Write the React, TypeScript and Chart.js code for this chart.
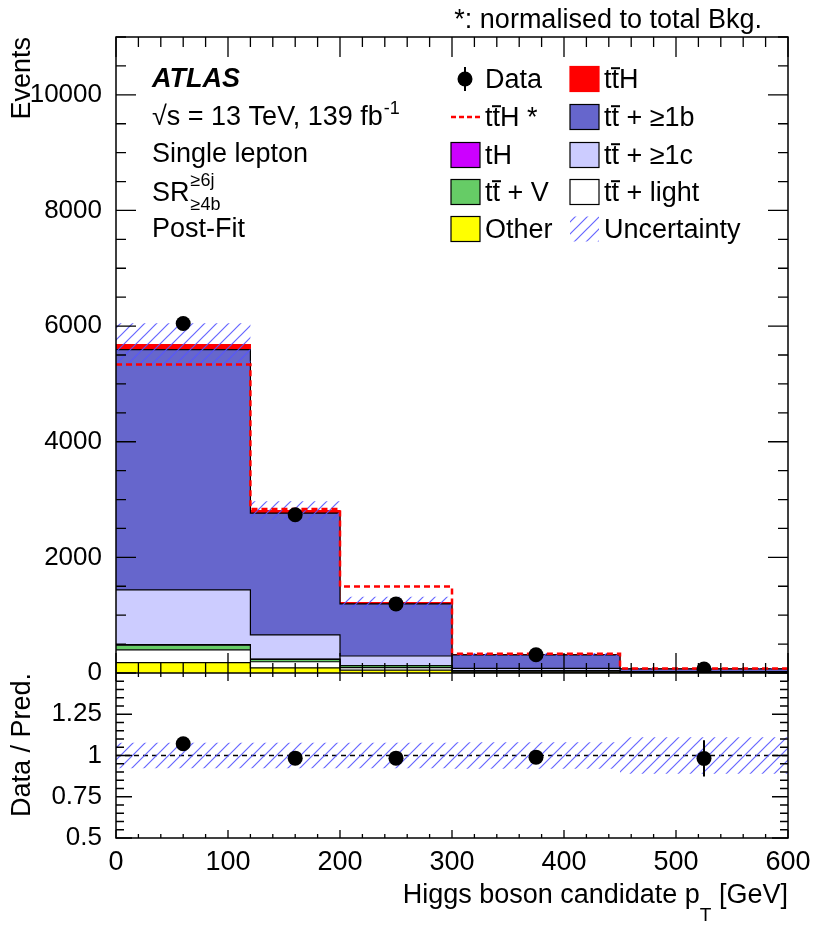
import { useEffect, useRef } from "react";
import { Chart, registerables } from "chart.js";

Chart.register(...registerables);

// binning of the Higgs candidate pT (GeV)
const binEdges = [0, 120, 200, 300, 450, 600];
const binCenters = [60, 160, 250, 375, 525];

// post-fit yields per bin, stacked bottom -> top
const other = [180, 90, 48, 15, 4];
const ttLight = [220, 105, 45, 15, 5];
const ttV = [80, 40, 32, 12, 4];
const tH = [12, 6, 3, 1, 0.4];
const ttC = [945, 417, 166, 37, 10];
const ttB = [4156, 2107, 901, 232, 47];
const ttH = [87, 45, 23, 8, 2];
const ttHNorm = [5335, 2835, 1495, 335, 78];
const bkgUnc = [370, 160, 100, 25, 8];

const dataEvents = [6045, 2736, 1195, 315, 68];
const dataErr = [78, 52, 35, 18, 8];

const ratio = [1.071, 0.984, 0.984, 0.99, 0.982];
const ratioErr = [0.013, 0.019, 0.029, 0.04, 0.11];
const ratioUnc = [0.078, 0.078, 0.078, 0.08, 0.11];

// labelled ticks
const eventTicks = [0, 2000, 4000, 6000, 8000, 10000];
const ratioTicks = [0.5, 0.75, 1, 1.25];
const ptTicks = [0, 100, 200, 300, 400, 500, 600];

const legendLeft = ["Data", "tt\u0304H *", "tH", "tt\u0304 + V", "Other"];
const legendRight = ["tt\u0304H", "tt\u0304 + \u22651b", "tt\u0304 + \u22651c", "tt\u0304 + light", "Uncertainty"];

const FONT = '"Liberation Sans", Arial, Helvetica, sans-serif';
const TXT = 27;

function hatchPattern(): CanvasPattern | string {
    const c = document.createElement("canvas");
    c.width = 12;
    c.height = 12;
    const g = c.getContext("2d");
    if (!g) return "rgba(90,90,255,0.4)";
    g.strokeStyle = "rgba(85,85,255,0.9)";
    g.lineWidth = 1.2;
    g.beginPath();
    for (const k of [0, 12, 24]) {
        g.moveTo(-2, k + 2);
        g.lineTo(k + 2, -2);
    }
    g.stroke();
    return g.createPattern(c, "repeat") ?? "rgba(90,90,255,0.4)";
}

// histogram outline: one point per bin edge, value held until the next edge
function stepPoints(vals: number[]) {
    return binEdges.map((x, i) => ({ x, y: vals[Math.min(i, vals.length - 1)] }));
}

// draws text, putting a bar over a letter followed by U+0304 (tt̄)
function drawLabel(ctx: CanvasRenderingContext2D, text: string, x: number, y: number, size = TXT) {
    ctx.font = `${size}px ${FONT}`;
    ctx.textAlign = "left";
    ctx.textBaseline = "alphabetic";
    const bar = text.indexOf("\u0304");
    if (bar < 0) {
        ctx.fillText(text, x, y);
        return;
    }
    const before = text.slice(0, bar - 1);
    const barred = text.slice(bar - 1, bar);
    const after = text.slice(bar + 1);
    let cx = x;
    ctx.fillText(before, cx, y);
    cx += ctx.measureText(before).width;
    const w = ctx.measureText(barred).width;
    ctx.fillText(barred, cx, y);
    ctx.fillRect(cx - 0.5, y - size * 0.77, w + 1.5, 2);
    cx += w;
    ctx.fillText(after, cx, y);
}

export default function App() {
    const canvasRef = useRef<HTMLCanvasElement | null>(null);

    useEffect(() => {
        if (!canvasRef.current) return;
        const hatch = hatchPattern();

        const layers = [
            { label: "Other", vals: other, color: "#ffff00", line: "#000000" },
            { label: "tt + light", vals: ttLight, color: "#ffffff", line: "#000000" },
            { label: "tt + V", vals: ttV, color: "#66cc66", line: "#000000" },
            { label: "tH", vals: tH, color: "#cc00ff", line: "#000000" },
            { label: "tt + >=1c", vals: ttC, color: "#ccccff", line: "#000000" },
            { label: "tt + >=1b", vals: ttB, color: "#6666cc", line: "#000000" },
            { label: "ttH", vals: ttH, color: "#ff0000", line: "#ff0000" },
        ];
        let run = [0, 0, 0, 0, 0];
        const cumulative = layers.map((l) => {
            run = run.map((r, i) => r + l.vals[i]);
            return run;
        });
        const total = run;

        const stackSets = layers.map((l, i) => ({
            label: l.label,
            data: stepPoints(cumulative[i]),
            yAxisID: "y",
            stepped: true,
            fill: "origin",
            backgroundColor: l.color,
            borderColor: l.line,
            borderWidth: 1.2,
            pointRadius: 0,
            order: 10 + i,
        }));

        const datasets: any[] = [
            {
                label: "Data",
                data: binCenters.map((x, i) => ({ x, y: dataEvents[i] })),
                yAxisID: "y",
                showLine: false,
                pointRadius: 7.5,
                pointBorderWidth: 0,
                pointBackgroundColor: "#000",
                order: 0,
            },
            {
                label: "ttH *",
                data: stepPoints(ttHNorm),
                yAxisID: "y",
                stepped: true,
                fill: false,
                borderColor: "#ff0000",
                borderWidth: 2.5,
                borderDash: [6, 4],
                pointRadius: 0,
                order: 1,
            },
            {
                label: "unc low",
                data: stepPoints(total.map((t, i) => t - bkgUnc[i])),
                yAxisID: "y",
                stepped: true,
                fill: false,
                borderWidth: 0,
                pointRadius: 0,
                order: 2,
            },
            {
                label: "Uncertainty",
                data: stepPoints(total.map((t, i) => t + bkgUnc[i])),
                yAxisID: "y",
                stepped: true,
                fill: "-1",
                backgroundColor: hatch,
                borderWidth: 0,
                pointRadius: 0,
                order: 2,
            },
            ...stackSets,
            {
                label: "ratio data",
                data: binCenters.map((x, i) => ({ x, y: ratio[i] })),
                yAxisID: "yr",
                showLine: false,
                pointRadius: 7.5,
                pointBorderWidth: 0,
                pointBackgroundColor: "#000",
                order: 0,
            },
            {
                label: "ratio unc low",
                data: stepPoints(ratioUnc.map((u) => 1 - u)),
                yAxisID: "yr",
                stepped: true,
                fill: false,
                borderWidth: 0,
                pointRadius: 0,
                order: 2,
            },
            {
                label: "ratio unc",
                data: stepPoints(ratioUnc.map((u) => 1 + u)),
                yAxisID: "yr",
                stepped: true,
                fill: "-1",
                backgroundColor: hatch,
                borderWidth: 0,
                pointRadius: 0,
                order: 2,
            },
            {
                label: "unity",
                data: [{ x: 0, y: 1 }, { x: 600, y: 1 }],
                yAxisID: "yr",
                fill: false,
                borderColor: "#000",
                borderWidth: 1.5,
                borderDash: [5, 4],
                pointRadius: 0,
                order: 3,
            },
        ];

        const errorBars = {
            id: "errorBars",
            afterDatasetsDraw(chart: any) {
                const { ctx, scales } = chart;
                ctx.save();
                ctx.strokeStyle = "#000";
                ctx.lineWidth = 2;
                ctx.beginPath();
                binCenters.forEach((c, i) => {
                    const px = scales.x.getPixelForValue(c);
                    ctx.moveTo(px, scales.y.getPixelForValue(dataEvents[i] - dataErr[i]));
                    ctx.lineTo(px, scales.y.getPixelForValue(dataEvents[i] + dataErr[i]));
                    ctx.moveTo(px, scales.yr.getPixelForValue(ratio[i] - ratioErr[i]));
                    ctx.lineTo(px, scales.yr.getPixelForValue(ratio[i] + ratioErr[i]));
                });
                ctx.stroke();
                ctx.restore();
            },
        };

        const decor = {
            id: "atlasDecor",
            afterDraw(chart: any) {
                const { ctx, chartArea: a, scales } = chart;
                const { x, y, yr } = scales;
                ctx.save();
                ctx.strokeStyle = "#000";
                ctx.fillStyle = "#000";

                // inward ticks on all sides of both panels
                ctx.lineWidth = 1.3;
                ctx.beginPath();
                const xTicks = (py: number, dir: number, maj: number, mn: number) => {
                    for (let v = 0; v <= 600; v += 20) {
                        const px = x.getPixelForValue(v);
                        const len = v % 100 === 0 ? maj : mn;
                        ctx.moveTo(px, py);
                        ctx.lineTo(px, py + dir * len);
                    }
                };
                xTicks(y.top, 1, 20, 10);
                xTicks(y.bottom, -1, 20, 10);
                xTicks(yr.top, 1, 8, 4);
                xTicks(yr.bottom, -1, 8, 4);
                const yTicks = (sc: any, lo: number, hi: number, step: number, majStep: number, maj: number, mn: number) => {
                    const n = Math.round((hi - lo) / step);
                    for (let k = 0; k <= n; k++) {
                        const v = lo + k * step;
                        const py = sc.getPixelForValue(v);
                        const r = v / majStep;
                        const len = Math.abs(r - Math.round(r)) < 1e-6 ? maj : mn;
                        ctx.moveTo(a.left, py);
                        ctx.lineTo(a.left + len, py);
                        ctx.moveTo(a.right, py);
                        ctx.lineTo(a.right - len, py);
                    }
                };
                yTicks(y, 0, 11000, 500, 2000, 20, 10);
                yTicks(yr, 0.5, 1.5, 0.05, 0.25, 16, 8);
                ctx.stroke();

                ctx.lineWidth = 1.5;
                ctx.strokeRect(a.left, a.top, a.right - a.left, a.bottom - a.top);
                ctx.beginPath();
                ctx.moveTo(a.left, y.bottom);
                ctx.lineTo(a.right, y.bottom);
                ctx.stroke();

                // axis titles
                ctx.font = `${TXT}px ${FONT}`;
                ctx.textBaseline = "alphabetic";
                for (const [title, top] of [["Events", y.top], ["Data / Pred.", yr.top]] as [string, number][]) {
                    ctx.save();
                    ctx.translate(30, top);
                    ctx.rotate(-Math.PI / 2);
                    ctx.textAlign = "right";
                    ctx.fillText(title, 0, 0);
                    ctx.restore();
                }
                ctx.textAlign = "right";
                const tail = " [GeV]";
                ctx.fillText(tail, a.right, 903);
                const wTail = ctx.measureText(tail).width;
                ctx.font = `19px ${FONT}`;
                ctx.fillText("T", a.right - wTail, 921);
                const wT = ctx.measureText("T").width;
                ctx.font = `${TXT}px ${FONT}`;
                ctx.fillText("Higgs boson candidate p", a.right - wTail - wT, 903);

                ctx.fillText("*: normalised to total Bkg.", 762, 28);

                // ATLAS label block
                ctx.textAlign = "left";
                ctx.font = `italic bold ${TXT}px ${FONT}`;
                ctx.fillText("ATLAS", 152, 87);
                ctx.font = `${TXT}px ${FONT}`;
                const lumi = "\u221As = 13 TeV, 139 fb";
                ctx.fillText(lumi, 152, 125);
                const wl = ctx.measureText(lumi).width;
                ctx.font = `18px ${FONT}`;
                ctx.fillText("-1", 152 + wl + 1, 114);
                ctx.font = `${TXT}px ${FONT}`;
                ctx.fillText("Single lepton", 152, 162);
                ctx.fillText("SR", 152, 201);
                const wsr = ctx.measureText("SR").width;
                ctx.font = `18px ${FONT}`;
                ctx.fillText("\u22656j", 152 + wsr + 1, 186);
                ctx.fillText("\u22654b", 152 + wsr + 1, 210);
                ctx.font = `${TXT}px ${FONT}`;
                ctx.fillText("Post-Fit", 152, 237);

                // legend
                const rows = [79, 117, 155, 192, 229];
                const boxW = 29;
                const boxH = 25;
                const box = (bx: number, cy: number, fill: any, line: string | null) => {
                    ctx.fillStyle = fill;
                    ctx.fillRect(bx, cy - boxH / 2, boxW, boxH);
                    if (line) {
                        ctx.strokeStyle = line;
                        ctx.lineWidth = 1.2;
                        ctx.strokeRect(bx, cy - boxH / 2, boxW, boxH);
                    }
                    ctx.fillStyle = "#000";
                    ctx.strokeStyle = "#000";
                };
                // left column
                ctx.beginPath();
                ctx.arc(465, rows[0], 7.5, 0, Math.PI * 2);
                ctx.fill();
                ctx.lineWidth = 2;
                ctx.beginPath();
                ctx.moveTo(465, rows[0] - 12);
                ctx.lineTo(465, rows[0] + 12);
                ctx.stroke();
                ctx.save();
                ctx.strokeStyle = "#ff0000";
                ctx.lineWidth = 2.5;
                ctx.setLineDash([5, 3]);
                ctx.beginPath();
                ctx.moveTo(451, rows[1]);
                ctx.lineTo(480, rows[1]);
                ctx.stroke();
                ctx.restore();
                box(451, rows[2], "#cc00ff", "#000");
                box(451, rows[3], "#66cc66", "#000");
                box(451, rows[4], "#ffff00", "#000");
                legendLeft.forEach((t, i) => drawLabel(ctx, t, 485, rows[i] + 9));
                // right column
                box(570, rows[0], "#ff0000", "#ff0000");
                box(570, rows[1], "#6666cc", "#000");
                box(570, rows[2], "#ccccff", "#000");
                box(570, rows[3], "#ffffff", "#000");
                box(570, rows[4], hatch, null);
                legendRight.forEach((t, i) => drawLabel(ctx, t, 604, rows[i] + 9));

                ctx.restore();
            },
        };

        const tickFont = { family: FONT, size: TXT };
        const yTickFont = { family: FONT, size: 26 };
        const fixedTicks = (vals: number[]) => (s: any) => {
            s.ticks = vals.map((value) => ({ value }));
        };

        const chart = new Chart(canvasRef.current, {
            type: "line",
            data: { datasets },
            options: {
                animation: false,
                responsive: true,
                maintainAspectRatio: false,
                events: [],
                layout: { padding: { top: 37, right: 42, left: 0, bottom: 0 } },
                plugins: {
                    legend: { display: false },
                    tooltip: { enabled: false },
                },
                scales: {
                    x: {
                        type: "linear",
                        min: 0,
                        max: 600,
                        grid: { display: false },
                        border: { display: false },
                        afterBuildTicks: fixedTicks(ptTicks),
                        ticks: {
                            autoSkip: false,
                            maxRotation: 0,
                            padding: 0,
                            color: "#000",
                            font: tickFont,
                            callback: (v: any) => String(v),
                        },
                        afterFit: (s: any) => {
                            s.height = 98;
                        },
                    },
                    // left boxes are stacked in reverse order: ratio first puts it at the bottom
                    yr: {
                        type: "linear",
                        position: "left",
                        stack: "panels",
                        stackWeight: 165,
                        min: 0.5,
                        max: 1.5,
                        grid: { display: false },
                        border: { display: false },
                        afterBuildTicks: fixedTicks(ratioTicks),
                        ticks: {
                            autoSkip: false,
                            padding: 6,
                            color: "#000",
                            font: yTickFont,
                            callback: (v: any) => String(Number(v)),
                        },
                        afterFit: (s: any) => {
                            s.width = 116;
                        },
                    },
                    y: {
                        type: "linear",
                        position: "left",
                        stack: "panels",
                        stackWeight: 636,
                        min: 0,
                        max: 11000,
                        grid: { display: false },
                        border: { display: false },
                        afterBuildTicks: fixedTicks(eventTicks),
                        ticks: {
                            autoSkip: false,
                            padding: 6,
                            color: "#000",
                            font: yTickFont,
                            callback: (v: any) => String(v),
                        },
                        afterFit: (s: any) => {
                            s.width = 116;
                        },
                    },
                },
            },
            plugins: [errorBars, decor],
        } as any);

        return () => {
            chart.destroy();
        };
    }, []);

    return (
        <div style={{ position: "absolute", left: 0, top: 0, width: 830, height: 936, background: "#fff" }}>
            <canvas ref={canvasRef} />
        </div>
    );
}
